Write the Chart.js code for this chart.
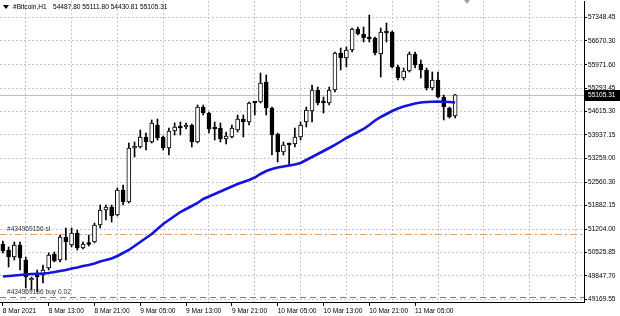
<!DOCTYPE html>
<html>
<head>
<meta charset="utf-8">
<script src="https://cdn.jsdelivr.net/npm/chart.js@4.4.1/dist/chart.umd.min.js"></script>
<style>
  html, body { margin: 0; padding: 0; background: #fff; }
  canvas { display: block; }
</style>
</head>
<body>
<canvas id="chart" width="620" height="316"></canvas>
<script>
// #Bitcoin,H1 - bar 0 is 8 Mar 2021 05:00, one bar per hour
const tickLabels = ["8 Mar 2021", "8 Mar 13:00", "8 Mar 21:00", "9 Mar 05:00", "9 Mar 13:00",
  "9 Mar 21:00", "10 Mar 05:00", "10 Mar 13:00", "10 Mar 21:00", "11 Mar 05:00"];
const yTicks = [57348.45, 56670.30, 55971.60, 55293.45, 54615.30, 53937.15, 53259.00,
  52560.30, 51882.15, 51204.00, 50525.85, 49847.70, 49169.55];

const open = [50769, 50594, 50391, 50740, 50304, 49723, 49868, 49868, 50071, 50478,
  50304, 50972, 50740, 51088, 50652, 50798, 50827, 51321, 51756, 51843,
  51611, 52337, 51989, 53557, 53586, 53877, 53732, 54226, 53877, 53557,
  54051, 54167, 54167, 54226, 53732, 54748, 54574, 54138, 54138, 53819,
  53877, 54080, 54400, 54313, 54880, 54894, 55475, 54719, 53964, 53441,
  53674, 53674, 53877, 54313, 54632, 55242, 54894, 54865, 55242, 56317,
  56172, 56404, 57014, 56869, 56753, 56753, 56288, 56927, 56927, 55910,
  55591, 55794, 56288, 55998, 55823, 55300, 55533, 55039, 54719, 54487.80];
const high = [50856, 50681, 50827, 50827, 50391, 49810, 50013, 50159, 50507, 50536,
  51030, 51233, 51233, 51175, 50827, 51030, 51379, 51902, 51902, 51902,
  52395, 52483, 53703, 53732, 54080, 53993, 54371, 54400, 53906, 54138,
  54284, 54313, 54284, 54255, 54807, 54807, 54603, 54313, 54284, 54022,
  54226, 54516, 54516, 54894, 54900, 55736, 55678, 54748, 53993, 53732,
  53703, 54138, 54313, 54748, 55388, 55329, 55039, 55329, 56346, 56462,
  56491, 57043, 57072, 57072, 57421, 56782, 57043, 57189, 56956, 55969,
  55881, 56346, 56346, 56114, 55881, 55765, 55765, 55097, 54748, 55111.80];
const low = [50507, 50100, 50304, 50013, 49490, 49432, 49374, 49636, 50013, 50246,
  50246, 50304, 50681, 50594, 50623, 50711, 50798, 51233, 51466, 51408,
  51582, 51902, 51960, 53296, 53557, 53499, 53703, 53790, 53499, 53354,
  53935, 53935, 54109, 53586, 53703, 54516, 53993, 53790, 53732, 53674,
  53848, 54022, 53877, 54226, 54516, 54865, 54516, 53354, 53151, 53354,
  53064, 53586, 53790, 54167, 54313, 54807, 54574, 54807, 55184, 55823,
  55910, 56346, 56840, 56637, 56637, 56259, 55620, 56637, 55881, 55533,
  55533, 55765, 55881, 55591, 55242, 55242, 55010, 54371, 54429, 54430.81];
const close = [50565, 50391, 50740, 50362, 49810, 49781, 49810, 50013, 50449, 50275,
  50972, 50827, 51088, 50652, 50769, 50754, 51321, 51756, 51843, 51582,
  52337, 51989, 53557, 53616, 53877, 53732, 54284, 53848, 53557, 54051,
  54167, 54138, 54226, 53732, 54748, 54574, 54109, 54109, 53819, 53906,
  54138, 54400, 54313, 54865, 54865, 55446, 54719, 53935, 53441, 53645,
  53645, 53877, 54226, 54661, 55242, 54865, 54865, 55242, 56317, 56172,
  56404, 57014, 56869, 56753, 56724, 56317, 56927, 56898, 55910, 55591,
  55794, 56288, 55969, 55823, 55300, 55533, 55039, 54748, 54458, 55105.31];
// moving average (blue)
const ma = [49824, 49839, 49853, 49868, 49883, 49897, 49903, 49912, 49926, 49955,
  49984, 50013, 50057, 50086, 50130, 50159, 50202, 50260, 50304, 50347,
  50420, 50507, 50594, 50711, 50827, 50943, 51059, 51204, 51350, 51466,
  51582, 51698, 51785, 51873, 51960, 52076, 52148, 52221, 52294, 52366,
  52439, 52512, 52570, 52628, 52700, 52802, 52889, 52947, 52991, 53020,
  53049, 53078, 53122, 53209, 53296, 53383, 53470, 53557, 53645, 53746,
  53848, 53935, 54022, 54109, 54226, 54356, 54458, 54545, 54632, 54705,
  54763, 54807, 54850, 54879, 54894, 54902, 54908, 54902, 54894, 54879];

const slPrice = 51059;
const buyPrice = 49229;
const orderLabel = "#434969156";
const headerValues = "54487.80 55111.80 54430.81 55105.31";

const totalBars = 102; // includes empty chart shift on the right
const labels = Array.from({ length: totalBars }, (_, i) => i);
const lastPrice = close[close.length - 1];
const FONT = "'Liberation Sans', Arial, sans-serif";

const overlay = {
  id: "overlay",
  beforeDatasetsDraw(chart) {
    const { ctx, chartArea: a, scales: { y } } = chart;
    ctx.save();
    // bid line
    let py = Math.round(y.getPixelForValue(lastPrice)) + 0.5;
    ctx.strokeStyle = "#c0c0c0";
    ctx.lineWidth = 1;
    ctx.beginPath(); ctx.moveTo(a.left, py); ctx.lineTo(a.right, py); ctx.stroke();
    // stop loss line
    py = Math.round(y.getPixelForValue(slPrice)) + 0.5;
    ctx.strokeStyle = "#d9a27a";
    ctx.setLineDash([7, 3, 2, 3]);
    ctx.beginPath(); ctx.moveTo(a.left, py); ctx.lineTo(a.right, py); ctx.stroke();
    // buy line
    py = Math.round(y.getPixelForValue(buyPrice)) + 0.5;
    ctx.strokeStyle = "#5a9a5a";
    ctx.setLineDash([6, 4]);
    ctx.beginPath(); ctx.moveTo(a.left, py); ctx.lineTo(a.right, py); ctx.stroke();
    ctx.restore();
  },
  afterDraw(chart) {
    const { ctx, chartArea: a, scales: { y } } = chart;
    ctx.save();
    ctx.font = "6.6px " + FONT;
    ctx.textBaseline = "middle";
    ctx.fillStyle = "#000";
    // header
    ctx.beginPath(); ctx.moveTo(3, 5); ctx.lineTo(9, 5); ctx.lineTo(6, 9); ctx.closePath(); ctx.fill();
    ctx.fillText("#Bitcoin,H1", 13, 7);
    ctx.fillText(headerValues, 53, 7);
    // order labels
    ctx.fillStyle = "#333";
    ctx.fillText(orderLabel + " sl", 7, y.getPixelForValue(slPrice) - 5);
    ctx.fillText(orderLabel + " buy 0.02", 7, y.getPixelForValue(buyPrice) - 5);
    // chart shift marker
    ctx.fillStyle = "#a0a0a0";
    ctx.beginPath(); ctx.moveTo(464, 0); ctx.lineTo(470, 0); ctx.lineTo(467, 4); ctx.closePath(); ctx.fill();
    // current price box
    const py = Math.round(y.getPixelForValue(lastPrice));
    ctx.fillStyle = "#000";
    ctx.fillRect(a.right + 1, py - 5, 35, 11);
    ctx.fillStyle = "#fff";
    ctx.fillText(lastPrice.toFixed(2), a.right + 4, py + 0.5);
    ctx.restore();
  }
};

new Chart(document.getElementById("chart"), {
  type: "bar",
  data: {
    labels: labels,
    datasets: [
      {
        type: "line",
        data: ma,
        borderColor: "#1414dc",
        borderWidth: 2.6,
        pointRadius: 0,
        tension: 0,
        order: 0
      },
      {
        data: open.map((o, i) => [Math.min(o, close[i]), Math.max(o, close[i])]),
        backgroundColor: open.map((o, i) => close[i] >= o ? "#ffffff" : "#000000"),
        borderColor: "#000",
        borderWidth: 1,
        borderSkipped: false,
        barThickness: 4,
        minBarLength: 2,
        grouped: false,
        order: 1
      },
      {
        data: low.map((l, i) => [l, high[i]]),
        backgroundColor: "#000",
        barThickness: 1,
        grouped: false,
        order: 2
      }
    ]
  },
  options: {
    responsive: false,
    animation: false,
    devicePixelRatio: 1,
    layout: { padding: { top: 1, left: 0, right: 0, bottom: 0 } },
    plugins: { legend: { display: false }, tooltip: { enabled: false } },
    scales: {
      x: {
        type: "category",
        offset: true,
        grid: {
          offset: false,
          color: (c) => (c.index % 8 === 4 ? "#c8c8c8" : "rgba(0,0,0,0)"),
          tickColor: (c) => (c.index % 8 === 0 && c.index / 8 < tickLabels.length ? "#000" : "rgba(0,0,0,0)"),
          tickLength: 4
        },
        border: { color: "#000", dash: [2, 2] },
        ticks: {
          autoSkip: false,
          maxRotation: 0,
          minRotation: 0,
          align: "start",
          padding: 1,
          color: "#000",
          font: { family: FONT, size: 6.6 },
          callback: (v, i) => (i % 8 === 0 && tickLabels[i / 8] ? tickLabels[i / 8] : "")
        },
        afterFit: (s) => { s.height = 14; s.paddingLeft = 0; s.paddingRight = 0; }
      },
      y: {
        position: "right",
        min: 49083.7,
        max: 57827.75,
        afterBuildTicks: (s) => { s.ticks = yTicks.map((v) => ({ value: v })); },
        grid: { color: "#c8c8c8", tickColor: "#000", tickLength: 3 },
        border: { color: "#000", dash: [2, 2] },
        ticks: {
          padding: 1,
          color: "#000",
          font: { family: FONT, size: 6.6 },
          callback: (v) => v.toFixed(2)
        },
        afterFit: (s) => { s.width = 36; s.paddingTop = 0; s.paddingBottom = 0; }
      }
    }
  },
  plugins: [overlay]
});
</script>
</body>
</html>
